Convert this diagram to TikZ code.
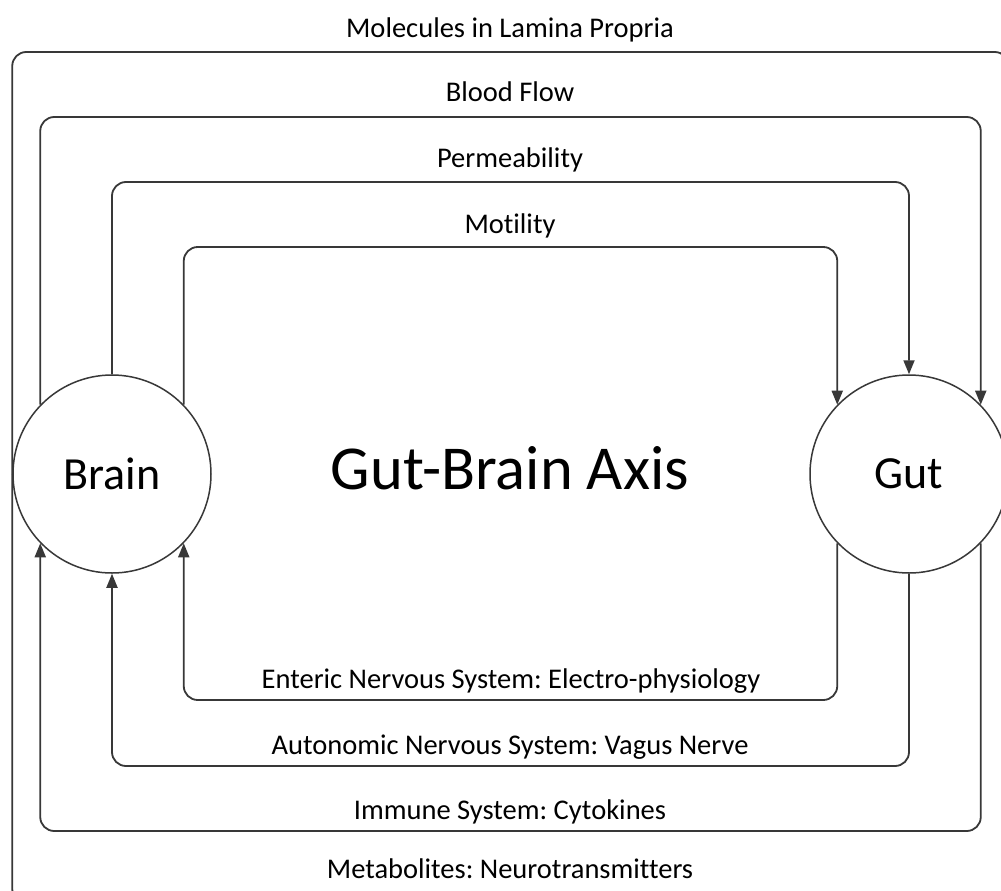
\documentclass[tikz,border=0pt]{standalone}
\usepackage{fontspec}
\setmainfont{Carlito}[Ligatures=CommonOff]
\usetikzlibrary{arrows.meta}
\frenchspacing
\tikzset{
  conn/.style={draw=black!78, line width=1.8pt, rounded corners=14pt},
  arr/.style={conn, -{Triangle[length=14pt,width=11pt]}},
  organ/.style={circle, draw=black!78, line width=1.5pt, minimum size=198pt, inner sep=0pt, font=\fontsize{46}{50}\selectfont},
  lbl/.style={anchor=base, inner sep=0pt, font=\fontsize{28.5}{32}\selectfont},
  title/.style={anchor=base, inner sep=0pt, font=\fontsize{62.5}{66}\selectfont}
}
\begin{document}
\begin{tikzpicture}[x=1pt,y=-1pt]
\useasboundingbox (0,0) rectangle (1001,891);
\clip (0,0) rectangle (1001,891);
\fill[white] (0,0) rectangle (1001,891);
\node[organ] (brain) at (112,474) {Brain};
\node[organ] (gut) at (909,474) {Gut};
% top paths (brain -> gut)
\draw[conn] (brain.west) -- (brain.west |- 0,52) -- (gut.east |- 0,52) -- (gut.east);
\draw[arr] (brain.136) -- (brain.136 |- 0,117) -- (gut.44 |- 0,117) -- (gut.44);
\draw[arr] (brain.north) -- (brain.north |- 0,182) -- (gut.north |- 0,182) -- (gut.north);
\draw[arr] (brain.44) -- (brain.44 |- 0,247) -- (gut.136 |- 0,247) -- (gut.136);
% bottom paths (gut -> brain)
\draw[arr] (gut.-136) -- (gut.-136 |- 0,700) -- (brain.-44 |- 0,700) -- (brain.-44);
\draw[arr] (gut.south) -- (gut.south |- 0,766) -- (brain.south |- 0,766) -- (brain.south);
\draw[arr] (gut.-44) -- (gut.-44 |- 0,831) -- (brain.-136 |- 0,831) -- (brain.-136);
\draw[conn] (gut.east) -- (gut.east |- 0,903) -- (brain.west |- 0,903) -- (brain.west);
% labels
\node[lbl] (mol) at (510,38) {Molecules in Lamina Propria};
\node[lbl] (blood) at (510,101) {Blood Flow};
\node[lbl] (perm) at (510,167) {Permeability};
\node[lbl] (mot) at (510,233) {Motility};
\node[title] (axis) at (510,489) {Gut-Brain Axis};
\node[lbl] (ens) at (511,688) {Enteric Nervous System: Electro-physiology};
\node[lbl] (ans) at (510,754) {Autonomic Nervous System: Vagus Nerve};
\node[lbl] (imm) at (510,819) {Immune System: Cytokines};
\node[lbl] (met) at (510,878) {Metabolites: Neurotransmitters};
\end{tikzpicture}
\end{document}
